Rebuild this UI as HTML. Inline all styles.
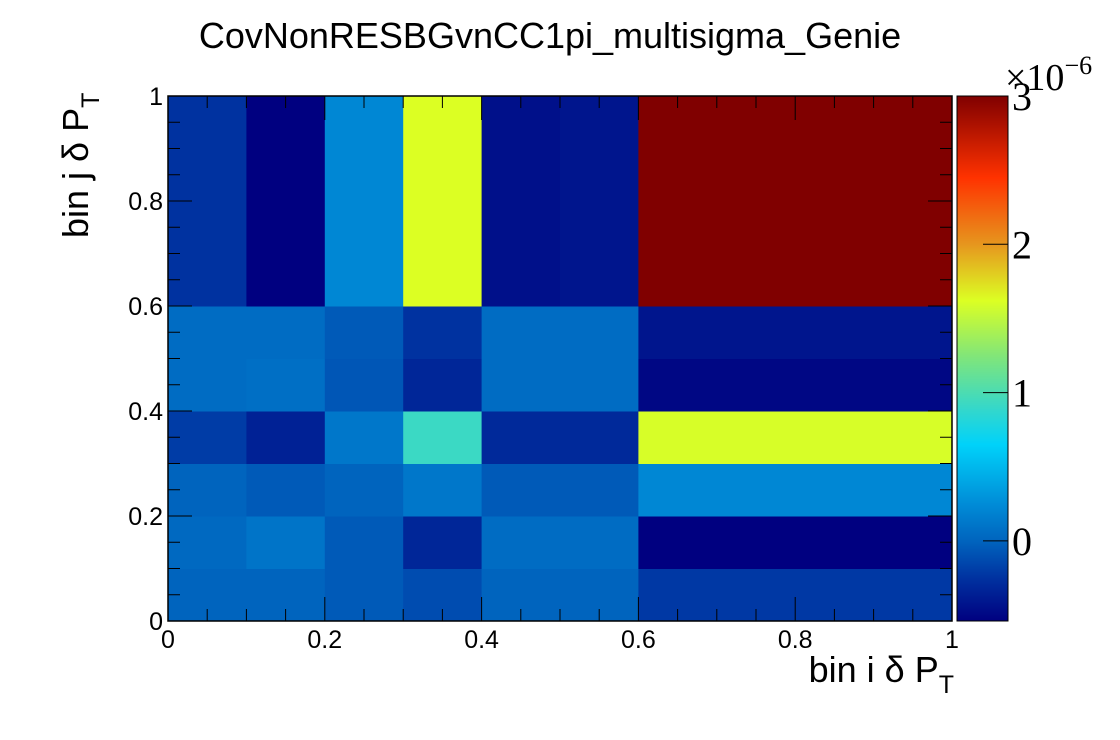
<!DOCTYPE html>
<html><head><meta charset="utf-8"><style>
body{margin:0;background:#fff;width:1120px;height:740px;overflow:hidden}
svg{display:block}
</style></head><body>
<svg id="c" width="1120" height="740" font-family="Liberation Sans, sans-serif">
<text x="550" y="48" font-size="36" text-anchor="middle">CovNonRESBGvnCC1pi_multisigma_Genie</text>
<g id="cells"></g>
<g id="axes"></g>
<g id="cbar"></g>
<text x="954" y="682" font-size="36" text-anchor="end">bin i δ P<tspan font-size="25" dy="11">T</tspan></text>
<text transform="translate(88,238) rotate(-90)" font-size="36">bin j δ P<tspan font-size="25" dy="11">T</tspan></text>
</svg>
<script>
const xEdges=[0,0.1,0.2,0.3,0.4,0.5,0.6,1.0];
const yEdges=[0,0.1,0.2,0.3,0.4,0.5,0.6,1.0];
// values ×1e-6, rows from bottom (y 0-0.1) to top (0.6-1)
const row0=[0,0,-0.05,-0.12,0,0,-0.22];
const row1=[0.03,0.1,-0.05,-0.32,0.05,0.05,-0.54];
const row2=[0,-0.05,0,0.12,-0.05,-0.05,0.22];
const row3=[-0.2,-0.35,0.12,0.92,-0.3,-0.3,1.6];
const row4=[0.05,0.07,-0.07,-0.32,0.05,0.05,-0.5];
const row5=[0.05,0.05,-0.05,-0.25,0.05,0.05,-0.42];
const row6=[-0.25,-0.54,0.22,1.62,-0.45,-0.42,3.0];
const zMin=-0.54, zMax=3.0;
const xTicks=[0,0.2,0.4,0.6,0.8,1];
const xTickLabels=["0","0.2","0.4","0.6","0.8","1"];
const zTicks=[0,1,2,3];
const rows=[row0,row1,row2,row3,row4,row5,row6];
const X0=168,X1=952,Y0=621,Y1=96;
const sx=v=>X0+(X1-X0)*v, sy=v=>Y0-(Y0-Y1)*v;
const stops=[[-0.54,[0,0,128]],[-0.25,[0,50,160]],[0,[0,100,190]],[0.25,[0,140,215]],[0.65,[0,210,250]],[0.88,[50,215,205]],[1.25,[130,230,120]],[1.62,[220,255,35]],[2.0,[230,150,30]],[2.45,[255,50,0]],[3.0,[128,0,0]]];
function col(v){v=Math.max(stops[0][0],Math.min(3.0,v));for(let i=1;i<stops.length;i++){if(v<=stops[i][0]){const a=stops[i-1],b=stops[i],t=(v-a[0])/(b[0]-a[0]);return 'rgb('+a[1].map((c,k)=>Math.round(c+(b[1][k]-c)*t)).join(',')+')';}}return 'rgb(128,0,0)';}
const NS='http://www.w3.org/2000/svg';
function mk(p,tag,attrs){const e=document.createElementNS(NS,tag);for(const k in attrs)e.setAttribute(k,attrs[k]);p.appendChild(e);return e;}
const cells=document.getElementById('cells');
rows.forEach((r,j)=>r.forEach((v,i)=>{
 const e=mk(cells,'rect',{x:sx(xEdges[i]),y:sy(yEdges[j+1]),width:sx(xEdges[i+1])-sx(xEdges[i])+0.5,height:sy(yEdges[j])-sy(yEdges[j+1])+0.5,fill:col(v)});
 
 
}));
const ax=document.getElementById('axes');
mk(ax,'rect',{x:X0,y:Y1,width:X1-X0,height:Y0-Y1,fill:'none',stroke:'#000','stroke-width':1.5});
for(let k=0;k<=20;k++){const v=k/20,L=(k%4==0)?24:12;
 mk(ax,'line',{x1:sx(v),x2:sx(v),y1:Y0,y2:Y0-L,stroke:'#000'});
 mk(ax,'line',{x1:sx(v),x2:sx(v),y1:Y1,y2:Y1+L,stroke:'#000'});
 mk(ax,'line',{x1:X0,x2:X0+L,y1:sy(v),y2:sy(v),stroke:'#000'});
 mk(ax,'line',{x1:X1,x2:X1-L,y1:sy(v),y2:sy(v),stroke:'#000'});}
xTicks.forEach((v,i)=>{
 const t=mk(ax,'text',{x:sx(v),y:648,'font-size':25,'text-anchor':'middle'});t.textContent=xTickLabels[i];
 
 
 const u=mk(ax,'text',{x:163,y:sy(v)+9,'font-size':25,'text-anchor':'end'});u.textContent=xTickLabels[i];
 
 
});
const cb=document.getElementById('cbar');
const CX0=957,CX1=1008,zy=v=>Y0-(Y0-Y1)*(v-zMin)/(zMax-zMin);
for(let y=Y1;y<Y0;y++){const v=zMin+(zMax-zMin)*(Y0-y-0.5)/(Y0-Y1);mk(cb,'rect',{x:CX0,y:y,width:CX1-CX0,height:1.2,fill:col(v)});}
mk(cb,'rect',{x:CX0,y:Y1,width:CX1-CX0,height:Y0-Y1,fill:'none',stroke:'#000'});
zTicks.forEach(v=>{mk(cb,'line',{x1:CX1-25,x2:CX1,y1:zy(v),y2:zy(v),stroke:'#000'});
 const t=mk(cb,'text',{x:1012,y:zy(v)+14,'font-size':40,'font-family':'Liberation Serif, serif'});t.textContent=String(v);
 
 });
const m=mk(cb,'text',{x:1005,y:90,'font-size':38,'font-family':'Liberation Serif, serif'});m.innerHTML='×10<tspan font-size="26" dy="-16">−6</tspan>';


</script>
</body></html>
